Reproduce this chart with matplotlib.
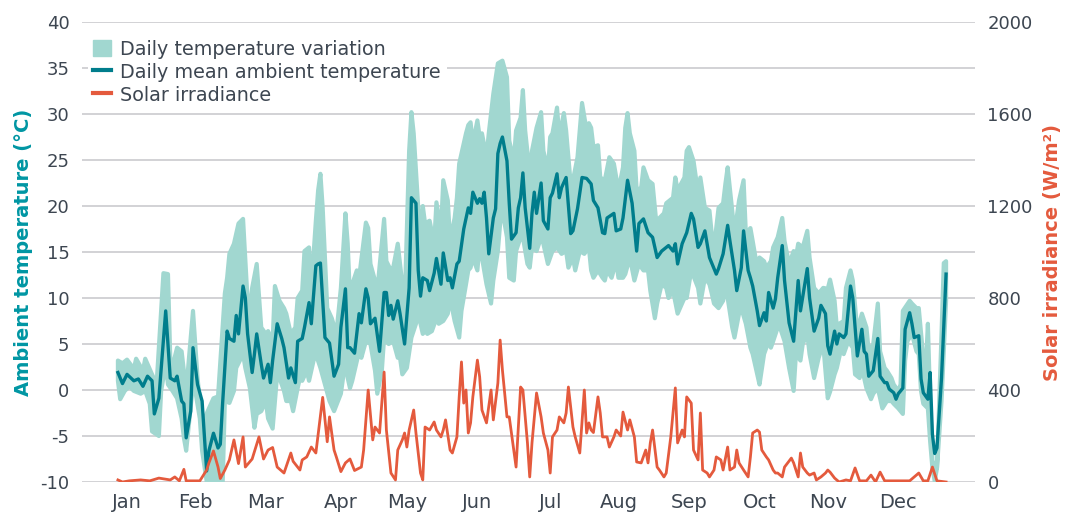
import numpy as np
import matplotlib
matplotlib.use("Agg")
import matplotlib.pyplot as plt
from matplotlib.patches import Patch
from matplotlib.lines import Line2D

# ---------------- data (day of year, values) ----------------
mean_days = [0,2,4,7,9,11,13,15,16,18,21,23,25,26,28,29,30,32,33,35,37,39,40,42,44,45,46,48,
             49,51,52,53,55,56,57,59,60,61,63,64,66,67,68,70,72,73,75,76,78,79,81,82,84,85,87,88,89,
             91,93,95,97,98,100,101,102,104,106,107,109,110,111,113,115,117,118,119,120,121,123,124,126,
             128,129,131,132,133,134,136,137,139,140,142,143,145,146,147,149,150,152,154,155,156,158,159,
             160,161,162,163,165,166,167,168,169,171,172,173,175,176,177,178,179,181,182,183,184,186,187,
             189,190,191,193,194,195,197,199,200,202,204,206,208,209,211,213,214,215,218,219,221,222,224,
             226,228,229,231,233,235,237,239,242,244,245,246,248,250,252,253,255,256,258,260,263,264,266,
             268,269,271,272,274,275,277,278,279,281,282,284,285,286,288,289,290,292,293,295,297,299,300,
             303,304,306,308,309,311,312,313,315,316,317,319,320,322,323,325,327,328,329,330,332,334,335,
             337,338,339,341,342,343,345,346,347,348,349,350,352,353,354,356,357,358,359,360,362,364]
mean_temp = [1.9,0.7,1.7,1.0,1.2,0.4,1.5,1.0,-2.6,-0.9,8.6,1.3,1.0,1.5,-1.2,-1.5,-5.2,-2.3,4.6,0.6,-1.2,-8.8,-6.6,-4.7,-6.3,-5.9,-1.5,6.4,
             5.6,5.3,8.1,6.1,11.3,10.0,6.1,1.9,3.9,6.1,2.8,1.3,2.8,0.8,3.2,7.2,5.6,4.6,1.3,2.4,0.8,5.3,5.6,6.8,9.5,7.2,13.5,13.7,13.8,
             5.7,5.1,1.5,2.8,6.8,11.0,4.6,4.6,4.0,8.3,7.3,11.0,10.0,7.2,7.8,4.2,10.6,10.6,8.1,9.2,7.7,9.7,8.3,5.0,
             11.1,20.9,20.3,13.0,10.2,12.2,11.9,10.8,12.7,14.3,11.5,14.9,11.9,12.2,11.1,13.7,14.0,17.5,19.8,19.2,21.5,20.3,20.8,
             20.3,21.5,18.7,14.8,18.7,19.7,25.7,26.8,27.5,24.9,20.3,16.4,17.1,19.8,20.9,23.6,19.8,15.4,19.2,21.5,19.2,22.5,18.4,
             17.5,20.9,21.4,23.5,20.9,22.0,23.1,17.0,17.3,19.7,23.1,23.0,22.4,20.6,19.8,17.1,17.0,18.7,19.2,17.3,17.5,18.7,22.8,
             20.3,15.1,18.1,18.6,17.1,16.6,14.4,15.1,15.7,15.1,15.9,13.7,15.9,17.1,19.2,18.6,15.5,15.9,17.3,14.4,12.6,13.2,14.8,
             17.9,16.2,13.0,10.8,13.3,17.3,13.0,12.2,11.3,8.6,7.0,8.4,7.5,10.6,8.9,9.9,12.2,15.7,11.9,7.3,5.3,11.9,8.6,
             13.2,10.0,6.4,7.8,9.2,8.3,4.8,3.9,6.4,5.0,6.1,5.7,6.1,11.3,10.0,3.7,6.6,4.2,3.9,1.5,2.1,5.6,1.5,
             0.8,0.8,0.1,-0.3,-1.0,-0.4,0.2,6.6,7.5,8.4,7.2,5.7,5.9,1.2,-0.3,-1.0,1.9,-4.8,-6.9,-6.3,1.3,12.6]

max_days = [0,2,4,7,8,11,12,15,17,20,22,23,24,26,28,30,33,35,37,40,42,44,47,48,
            49,51,53,55,57,58,59,61,63,65,66,68,69,71,73,74,76,78,79,81,82,84,85,87,88,89,90,92,94,96,98,100,101,
            102,103,105,106,109,110,111,113,114,117,118,120,121,123,125,126,128,129,130,132,133,134,135,137,139,140,142,143,145,146,148,149,150,153,154,
            155,156,158,159,160,162,163,165,167,169,171,172,174,175,177,178,179,181,182,184,186,187,189,190,191,193,194,196,197,199,200,202,204,206,207,
            208,209,211,212,214,216,218,220,222,223,224,225,227,228,230,231,233,235,237,238,240,241,244,245,246,249,250,251,253,255,256,258,260,
            261,262,264,266,267,268,270,271,273,275,276,278,279,281,282,284,285,287,288,290,292,293,295,297,298,299,301,303,304,306,308,310,312,
            313,315,316,317,319,320,322,323,325,327,329,330,332,334,335,337,338,340,341,343,344,345,348,349,351,352,354,355,356,357,358,360,362,363,364]
max_temp = [3.2,2.9,3.3,2.3,3.4,2.1,3.4,1.7,0.6,12.7,12.6,3.5,2.6,4.6,4.2,-0.1,8.6,1.3,-3.7,-2.0,-0.9,-0.7,10.5,12.2,
            14.8,15.9,18.1,18.6,9.7,8.9,11.1,13.7,6.8,6.1,6.4,5.3,11.3,9.7,8.9,8.3,6.1,6.8,10.0,10.8,15.1,15.5,11.1,18.4,21.7,23.5,19.8,8.9,7.8,6.1,11.1,19.2,15.9,
            10.0,11.5,13.0,12.2,18.2,17.6,13.7,11.9,10.8,18.6,14.0,13.0,13.3,15.9,11.5,8.9,26.0,30.2,27.9,19.8,16.6,20.0,18.1,18.4,15.9,20.4,17.3,22.8,20.6,16.2,18.7,20.9,24.6,27.9,28.8,
            29.1,26.8,29.3,27.5,27.9,25.3,27.9,32.2,35.5,35.8,34.0,27.1,24.9,28.2,29.6,32.6,28.2,23.5,26.0,28.5,30.2,26.0,23.9,27.5,27.9,30.7,27.5,30.1,28.2,22.4,22.8,25.3,31.2,28.2,29.0,
            28.5,26.4,26.6,23.1,22.8,25.3,24.6,21.7,24.2,28.5,30.1,27.9,26.0,21.7,22.0,24.2,22.8,22.4,17.3,18.7,19.2,20.3,20.9,23.1,21.7,23.1,26.0,26.4,24.9,21.4,23.1,19.8,19.5,
            17.0,15.5,19.8,20.3,22.4,24.2,19.5,17.0,20.6,22.8,17.0,17.6,16.2,13.3,14.4,14.0,13.3,14.0,15.5,16.6,18.7,16.2,13.7,15.1,14.4,15.9,15.5,17.3,14.4,11.1,10.5,11.1,11.0,
            12.0,9.7,6.8,7.2,7.5,11.1,13.0,11.9,6.4,8.3,6.8,4.2,5.0,9.4,4.2,2.4,2.1,1.3,0.6,-0.1,0.6,8.6,9.7,9.4,8.9,8.9,3.5,1.7,7.2,-1.2,-7.7,-8.5,6.1,13.8,14.0]

min_days = [0,1,3,5,7,10,12,14,15,18,19,21,22,24,26,28,29,30,33,34,36,37,39,40,43,46,47,
            49,51,52,55,56,58,60,61,63,65,66,68,70,71,73,74,76,77,79,80,81,83,84,86,87,89,91,93,95,98,100,101,
            102,103,106,107,109,111,113,114,116,117,119,121,123,124,125,127,129,131,132,134,135,136,138,140,141,143,145,146,148,150,151,153,154,
            155,156,158,159,160,162,164,165,167,168,169,171,172,174,175,177,178,180,181,182,184,186,187,189,190,191,193,195,197,198,200,201,203,205,207,
            208,209,211,213,214,215,217,219,220,222,223,225,227,229,231,233,234,236,237,239,241,242,244,246,249,250,252,255,256,258,260,
            261,262,264,266,267,268,270,271,273,274,276,278,279,281,282,284,286,287,288,290,291,293,295,297,298,300,301,303,304,306,308,310,312,
            313,315,316,318,319,321,323,324,326,327,329,331,332,334,336,338,340,341,343,345,346,347,349,351,352,353,354,356,357,358,359,360,362,364]
min_temp = [1.0,-1.0,-0.1,0.4,-0.1,-0.4,-0.1,-1.5,-4.5,-5.0,-0.1,2.8,0.6,-0.1,-0.9,-3.1,-5.2,-6.6,0.6,-0.1,-3.1,-6.6,-9.9,-10.5,-10.5,-10.5,-1.2,
            -1.4,-0.1,2.4,3.9,2.4,0.2,-4.1,-2.6,-2.3,-1.2,-3.1,-4.2,1.7,1.3,-0.1,-1.2,-1.2,-2.3,0.2,1.3,1.0,2.1,1.0,3.2,3.9,2.4,0.6,-1.2,-2.3,-0.4,3.2,1.3,
            0.2,1.0,4.2,3.5,5.3,5.0,2.1,-0.4,2.1,5.7,5.0,5.3,3.5,3.5,1.7,2.4,5.7,7.2,8.3,6.1,6.4,6.1,6.4,7.8,7.2,7.5,8.3,10.0,7.5,5.7,8.6,11.5,13.0,
            13.3,14.4,13.0,15.9,14.4,11.5,9.4,11.9,15.1,18.1,19.5,16.6,12.2,11.9,15.1,16.6,16.6,13.7,13.3,15.5,15.1,16.6,15.9,13.7,14.4,15.1,15.5,14.8,15.1,13.3,14.4,13.0,15.1,14.8,15.5,
            13.0,12.2,13.0,12.2,11.9,13.0,12.2,14.0,12.2,12.2,12.6,14.4,11.9,13.7,13.0,13.0,10.8,7.8,9.4,11.5,11.1,10.0,10.8,8.3,10.0,10.0,13.0,11.1,9.4,12.2,11.5,
            10.5,9.4,8.9,9.7,11.1,10.0,6.8,5.7,8.3,8.9,7.2,4.6,3.9,1.7,0.6,3.9,5.3,4.6,5.3,6.8,6.8,5.3,2.4,-0.1,3.9,3.2,5.0,6.1,3.9,1.3,3.5,5.0,-0.9,
            -0.2,1.7,2.4,4.6,3.9,5.3,4.6,1.7,1.3,2.4,0.2,-1.0,-0.4,0.2,-2.0,-1.2,-1.2,-1.5,-2.0,-2.6,3.2,5.3,6.1,4.2,3.9,-0.1,-1.5,-2.0,-5.6,-8.5,-9.9,-8.5,-1.2,9.7]

irr_days = [0,2,5,10,14,18,23,25,27,29,30,34,36,39,40,42,44,45,47,49,51,53,55,56,59,62,64,66,68,70,73,76,77,80,81,83,85,87,90,92,93,95,96,98,100,
            102,104,107,108,110,112,113,115,117,118,120,122,123,125,126,127,128,130,131,133,134,135,137,139,140,142,143,144,146,147,149,150,151,152,153,154,
            155,156,158,159,160,162,164,165,167,168,169,171,172,174,175,177,178,180,181,182,184,186,187,189,190,191,193,194,196,197,198,200,201,203,205,206,207,
            208,209,211,212,213,215,216,218,219,221,222,224,225,227,228,230,232,233,234,235,237,238,240,241,243,245,246,248,249,250,252,253,255,256,257,259,260,
            262,263,265,266,268,269,271,272,273,275,277,278,279,281,282,283,285,286,288,289,290,292,293,296,297,299,300,301,303,304,306,307,309,311,312,
            313,315,317,320,322,324,326,329,331,333,335,337,340,344,348,352,354,356,358,360,364]
irradiance = [9,0,5,9,5,17,9,22,5,55,5,5,5,52,83,135,65,15,52,96,183,80,196,65,100,196,100,139,150,65,39,126,90,52,96,109,152,126,368,175,283,139,109,45,83,
              100,50,65,139,400,183,239,213,478,226,39,9,139,183,213,152,226,313,213,39,9,239,226,261,226,196,226,270,139,126,196,370,522,343,400,213,
              257,370,530,457,313,257,400,270,430,617,487,283,283,139,65,413,400,170,22,170,387,283,213,139,39,196,226,283,257,300,413,239,196,126,400,213,257,
              226,215,370,300,196,196,152,196,226,200,304,226,270,196,87,83,139,83,170,226,65,52,22,39,196,409,170,226,196,370,343,139,96,300,52,39,22,
              52,109,96,52,152,52,65,139,83,52,22,109,213,226,217,139,109,96,52,39,39,22,65,104,83,22,126,65,39,30,39,9,22,39,52,
              43,17,0,9,5,61,5,5,30,0,43,5,5,5,5,39,5,5,65,5,0]

months = ["Jan", "Feb", "Mar", "Apr", "May", "Jun", "Jul", "Aug", "Sep", "Oct", "Nov", "Dec"]
temp_ticks = [-10, -5, 0, 5, 10, 15, 20, 25, 30, 35, 40]
irr_ticks = [0, 400, 800, 1200, 1600, 2000]

# ---------------- style ----------------
BAND = "#a1d7d0"
MEAN = "#007d8c"
RED = "#e45a3d"
TXT = "#3d4651"
GRID = "#cfcfd2"
TEAL_LBL = "#0096a3"

plt.rcParams['font.family'] = ['DejaVu Sans']

fig = plt.figure(figsize=(10.66, 5.12), dpi=100)
ax = fig.add_axes([0.0769, 0.0586, 0.8377, 0.8984])
ax2 = ax.twinx()

xmin, xmax = -15.8, 376.7
ax.set_xlim(xmin, xmax)
ax.set_ylim(-10, 40)
ax2.set_ylim(0, 2000)

for t in temp_ticks:
    ax.axhline(t, color=GRID, lw=1.3, zorder=0)

poly_x = list(max_days) + list(min_days[::-1])
poly_y = list(max_temp) + list(min_temp[::-1])
ax.fill(poly_x, poly_y, facecolor=BAND, edgecolor=BAND, lw=3.0, joinstyle='round', zorder=2)
ax.plot(mean_days, mean_temp, color=MEAN, lw=2.4, solid_joinstyle='round', zorder=4)

ax2.plot(irr_days, irradiance, color=RED, lw=2.0, solid_joinstyle='round', zorder=3)

for a in (ax, ax2):
    for s in a.spines.values():
        s.set_visible(False)
ax.set_yticks(temp_ticks)
ax.set_yticklabels([str(t) for t in temp_ticks])
ax.tick_params(axis='y', length=0, pad=9, labelsize=13, labelcolor=TXT)
ax2.set_yticks(irr_ticks)
ax2.tick_params(axis='y', length=0, pad=9, labelsize=13, labelcolor=TXT)

month_pos = [4, 34, 65, 98, 127, 158, 190, 220, 251, 282, 312, 343]
ax.set_xticks(month_pos)
ax.set_xticklabels(months)
ax.tick_params(axis='x', length=0, pad=8, labelsize=14, labelcolor=TXT)

ax.set_ylabel("Ambient temperature (°C)", color=TEAL_LBL, fontsize=14, fontweight='bold', labelpad=5)
ax2.set_ylabel("Solar irradiance (W/m²)", color=RED, fontsize=14, fontweight='bold', labelpad=7)

ax2.set_zorder(ax.get_zorder() + 1)
ax2.patch.set_visible(False)

handles = [Patch(facecolor=BAND, edgecolor=BAND),
           Line2D([0], [0], color=MEAN, lw=3),
           Line2D([0], [0], color=RED, lw=3)]
labels = ["Daily temperature variation", "Daily mean ambient temperature", "Solar irradiance"]
leg = ax2.legend(handles, labels, loc='upper left', bbox_to_anchor=(0.002, 0.982), frameon=True,
                 fontsize=13.8, handlelength=0.9, handleheight=0.9, handletextpad=0.5, labelspacing=0.2,
                 borderpad=0.3, borderaxespad=0.2)
leg.get_frame().set_facecolor('white')
leg.get_frame().set_edgecolor('none')
leg.get_frame().set_alpha(1.0)
for t in leg.get_texts():
    t.set_color(TXT)

fig.savefig("out.png", dpi=100)
